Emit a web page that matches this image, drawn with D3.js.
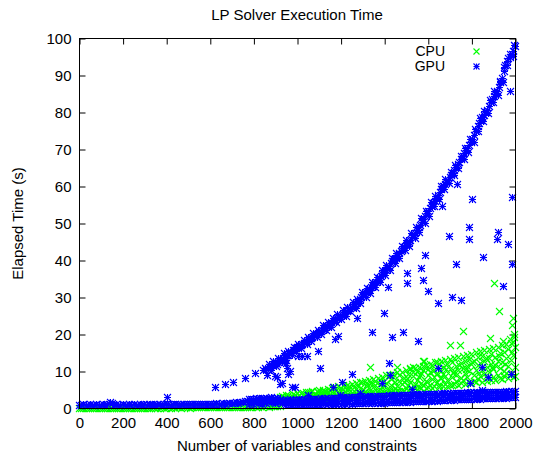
<!DOCTYPE html>
<html>
<head>
<meta charset="utf-8">
<script src="https://cdn.jsdelivr.net/npm/d3@7"></script>
<style>
  html, body { margin: 0; padding: 0; background: #fff; }
  svg { display: block; }
  text { font-family: "Liberation Sans", Arial, Helvetica, sans-serif; fill: #000; }
</style>
</head>
<body>
<svg id="chart" width="534" height="453"></svg>
<script>
// ---------------- DATA ----------------
const xTicks = [0, 200, 400, 600, 800, 1000, 1200, 1400, 1600, 1800, 2000];
const yTicks = [0, 10, 20, 30, 40, 50, 60, 70, 80, 90, 100];
const seriesNames = ["CPU", "GPU"];

// CPU: near-zero timings for small problems
const cpuLow = [[0,0.0],[10,0.0],[20,0.1],[30,0.0],[40,0.0],[50,0.1],[60,0.0],[70,0.0],[80,0.1],[90,0.0],[100,0.0],[110,0.1],[120,0.0],[130,0.1],[140,0.0],[150,0.1],[160,0.0],[170,0.1],[180,0.1],[190,0.0],[200,0.1],[210,0.1],[220,0.0],[230,0.1],[240,0.1],[250,0.1],[260,0.0],[270,0.1],[280,0.1],[290,0.1],[300,0.1],[310,0.1],[320,0.1],[330,0.1],[340,0.2],[350,0.1],[360,0.1],[370,0.1],[380,0.2],[390,0.1],[400,0.1],[410,0.2],[420,0.1],[430,0.2],[440,0.1],[450,0.2],[460,0.2],[470,0.1],[480,0.2],[490,0.2],[500,0.2],[510,0.1],[520,0.2],[530,0.2],[540,0.2],[550,0.2],[560,0.3],[570,0.2],[580,0.2],[590,0.3],[600,0.2],[610,0.3],[620,0.2],[630,0.3],[640,0.3],[650,0.2],[660,0.3],[670,0.3],[680,0.3],[690,0.4],[700,0.3],[710,0.3],[720,0.4],[730,0.3],[740,0.4],[750,0.4],[760,0.3],[770,0.4],[780,0.4],[790,0.4],[800,0.5],[810,0.4],[820,0.4],[830,0.5],[840,0.4],[850,0.5],[860,0.5],[870,0.4],[880,0.5],[890,0.5],[900,0.5],[910,0.6],[920,0.5]];

// CPU: growing, noisy band for larger problems
const cpuBand = [
 [920,2.0],[920,2.9],[930,2.6],[930,1.9],[930,3.3],[940,3.0],[940,2.2],[940,2.5],[950,1.9],[950,3.4],[950,2.7],
 [960,2.4],[960,3.6],[960,2.1],[970,3.1],[970,2.0],[970,2.6],[980,2.3],[980,3.8],[980,2.9],[990,3.5],[990,2.2],[990,2.7],
 [1000,2.1],[1000,3.1],[1000,4.0],[1010,3.6],[1010,2.5],[1010,2.0],[1020,2.8],[1020,4.1],[1020,2.3],[1030,2.2],[1030,3.3],[1030,3.9],
 [1040,3.7],[1040,2.6],[1040,4.4],[1050,2.4],[1050,3.0],[1050,4.2],[1060,4.3],[1060,2.3],[1060,3.4],[1070,2.9],[1070,4.6],[1070,2.5],
 [1080,3.8],[1080,2.4],[1080,3.1],[1090,2.6],[1090,4.5],[1090,3.5],[1100,4.8],[1100,3.0],[1100,2.5],[1110,2.7],[1110,3.9],[1110,4.4],
 [1120,3.4],[1120,2.6],[1120,5.0],[1130,4.6],[1130,2.9],[1130,3.7],[1140,2.8],[1140,5.2],[1140,4.0],[1150,3.9],[1150,2.7],[1150,4.8],
 [1160,5.4],[1160,3.3],[1160,2.9],[1170,3.0],[1170,4.4],[1170,5.7],[1180,4.9],[1180,3.6],[1180,2.8],[1190,3.2],[1190,5.9],[1190,4.1],
 [1200,5.5],[1200,2.9],[1200,4.6],[1210,3.7],[1210,6.1],[1210,3.1],[1220,4.5],[1220,3.0],[1220,5.6],[1230,6.3],[1230,3.8],[1230,4.9],
 [1240,3.3],[1240,5.2],[1240,6.0],[1250,4.1],[1250,6.6],[1250,3.2],[1260,5.7],[1260,3.5],[1260,4.7],[1270,3.4],[1270,6.8],[1270,5.1],
 [1280,6.2],[1280,4.3],[1280,3.6],[1290,3.9],[1290,5.5],[1290,7.1],[1300,6.9],[1300,3.5],[1300,4.8],[1310,4.5],[1310,7.3],[1310,3.8],
 [1320,5.9],[1320,3.7],[1320,6.6],[1330,3.9],[1330,7.6],[1330,5.3],[1340,6.8],[1340,4.4],[1340,3.8],[1350,4.2],[1350,5.6],[1350,7.9],
 [1360,7.4],[1360,3.9],[1360,6.2],[1370,5.0],[1370,8.2],[1370,4.1],[1380,3.9],[1380,6.5],[1380,7.7],[1390,8.5],[1390,4.6],[1390,5.6],
 [1400,4.2],[1400,7.2],[1400,6.0],[1410,6.7],[1410,4.0],[1410,8.8],[1420,5.2],[1420,9.0],[1420,4.5],[1430,7.8],[1430,4.3],[1430,6.3],
 [1440,4.6],[1440,8.5],[1440,9.3],[1450,6.9],[1450,4.4],[1450,5.5],[1460,9.6],[1460,5.9],[1460,4.7],[1470,4.5],[1470,7.4],[1470,8.9],
 [1480,6.4],[1480,9.8],[1480,4.9],[1490,8.2],[1490,4.7],[1490,6.9],[1500,5.3],[1500,10.2],[1500,7.6],[1510,9.1],[1510,4.8],[1510,6.2],
 [1520,7.0],[1520,10.5],[1520,5.1],[1530,4.9],[1530,8.6],[1530,9.7],[1540,10.8],[1540,6.5],[1540,5.3],[1550,7.7],[1550,5.0],[1550,9.9],
 [1560,5.6],[1560,11.1],[1560,8.3],[1570,9.4],[1570,5.3],[1570,6.8],[1580,6.1],[1580,10.4],[1580,11.4],[1590,11.7],[1590,7.4],[1590,5.4],
 [1600,5.6],[1600,8.9],[1600,10.6],[1610,9.8],[1610,6.3],[1610,12.0],[1620,7.8],[1620,11.5],[1620,5.5],[1630,5.9],[1630,10.3],[1630,8.5],
 [1640,12.3],[1640,7.0],[1640,9.4],[1650,6.2],[1650,11.8],[1650,5.8],[1660,10.0],[1660,8.1],[1660,12.6],[1670,5.9],[1670,9.3],[1670,11.0],
 [1680,12.9],[1680,6.6],[1680,8.7],[1690,7.5],[1690,11.9],[1690,6.0],[1700,10.6],[1700,6.3],[1700,13.2],[1710,8.3],[1710,12.4],[1710,6.1],
 [1720,6.4],[1720,9.9],[1720,13.5],[1730,11.3],[1730,7.2],[1730,8.8],[1740,13.8],[1740,6.3],[1740,10.4],[1750,8.0],[1750,12.1],[1750,6.7],
 [1760,10.9],[1760,14.1],[1760,7.6],[1770,6.5],[1770,9.5],[1770,12.8],[1780,14.4],[1780,8.4],[1780,11.3],[1790,7.1],[1790,13.2],[1790,9.9],
 [1800,11.9],[1800,6.7],[1800,14.7],[1810,9.0],[1810,12.6],[1810,7.4],[1820,15.0],[1820,10.4],[1820,6.9],[1830,7.8],[1830,13.7],[1830,11.5],
 [1840,12.2],[1840,8.6],[1840,15.3],[1850,7.0],[1850,14.1],[1850,10.2],[1860,15.6],[1860,9.3],[1860,12.8],[1870,8.1],[1870,11.1],[1870,7.3],
 [1880,13.5],[1880,15.9],[1880,9.7],[1890,7.6],[1890,12.0],[1890,14.6],[1900,16.2],[1900,10.5],[1900,8.4],[1910,7.5],[1910,13.9],[1910,11.7],
 [1920,12.7],[1920,16.6],[1920,9.0],[1930,8.2],[1930,14.8],[1930,10.9],[1940,16.9],[1940,7.8],[1940,12.4],[1950,10.1],[1950,15.2],[1950,8.7],
 [1960,13.6],[1960,17.3],[1960,9.5],[1970,8.0],[1970,11.4],[1970,15.9],[1980,17.6],[1980,12.9],[1980,9.2],[1990,8.4],[1990,14.3],[1990,17.9],
 [2000,11.1],[2000,16.4],[2000,8.6],
 [1505,8.0],[1535,6.0],[1565,9.0],[1595,7.0],[1625,10.0],[1655,8.0],[1685,10.5],[1715,9.5],[1745,11.5],[1775,10.5],[1805,12.5],
 [1835,9.5],[1865,13.5],[1895,11.0],[1925,14.0],[1955,12.0],[1985,15.0],[1995,19.2],[1975,18.6],[1945,18.2]
];

// CPU: isolated slow runs
const cpuOutliers = [[982,3.0],[1097,4.3],[1119,4.3],[1335,11.1],[1459,11.0],[1518,10.8],[1532,11.0],[1578,12.7],[1583,12.7],[1633,12.4],[1702,17.0],[1748,17.0],[1761,20.8],[1885,18.9],[1904,33.8],[1927,26.2],[1988,22.4],[1991,24.3],[1996,20.0]];

// GPU: lower band (fast runs)
const gpuLow = [
 [0,0.9],[10,0.8],[20,1.0],[30,0.8],[40,0.9],[50,1.0],[60,0.8],[70,0.9],[80,1.0],[90,0.8],[100,0.9],[110,1.0],[120,0.9],[130,1.1],[140,1.7],[150,1.3],
 [160,0.9],[170,1.0],[180,0.8],[190,0.9],[200,1.0],[210,0.9],[220,0.8],[230,1.0],[240,0.9],[250,1.0],[260,0.8],[270,0.9],[280,1.0],[290,0.9],
 [300,1.0],[310,0.9],[320,1.1],[330,0.9],[340,1.0],[350,0.9],[360,1.0],[370,1.1],[380,0.9],[390,1.0],[400,1.0],[410,1.1],[420,0.9],[430,1.0],
 [440,1.1],[450,1.0],[460,0.9],[470,1.1],[480,1.0],[490,1.1],[500,1.0],[510,1.1],[520,1.0],[530,1.1],[540,1.2],[550,1.0],[560,1.1],[570,1.2],
 [580,1.1],[590,1.0],[600,1.2],[610,1.1],[620,1.2],[630,1.3],[640,1.1],[650,1.2],[660,1.3],[670,1.2],[680,1.4],[690,1.3],[700,1.4],[710,1.3],
 [720,1.5],[730,1.4],[740,1.6],[750,1.7],[760,1.9],[770,2.0],[780,2.3],[790,2.5],[800,2.4],[810,2.6],[820,2.4],[830,2.7],[840,2.5],[850,2.8],
 [860,2.6],[870,2.7],[880,2.9],[890,2.5],[900,2.7],[910,2.6],[920,2.4],[930,2.2],[940,1.8],
 [780,1.2],[790,1.4],[800,1.1],[810,1.5],[820,1.3],[830,1.6],[840,1.2],[850,1.7],[860,1.4],[870,1.9],[880,1.5],[890,1.8],[900,1.4],[910,1.9],[920,1.5],[930,1.3],
 [785,1.9],[805,2.0],[825,2.1],[845,2.2],[865,2.1],[885,2.2],[905,2.2],[925,2.0],
 [950,1.0],[950,2.2],[960,1.1],[960,2.0],[970,1.0],[970,2.3],[980,1.2],[980,2.1],[990,1.1],[990,2.2],[1000,1.0],[1000,2.1],
 [1010,1.2],[1010,2.3],[1020,1.1],[1020,2.2],[1030,1.0],[1030,2.4],[1040,1.2],[1040,2.2],[1050,1.1],[1050,2.4],[1060,1.2],[1060,2.3],
 [1070,1.0],[1070,2.5],[1080,1.2],[1080,2.3],[1090,1.1],[1090,2.5],[1100,1.2],[1100,2.4],[1110,1.1],[1110,2.6],[1120,1.3],[1120,2.5],
 [1130,1.1],[1130,2.6],[1140,1.2],[1140,2.7],[1150,1.3],[1150,2.5],[1160,1.1],[1160,2.7],[1170,1.3],[1170,2.8],[1180,1.2],[1180,2.6],
 [1190,1.3],[1190,2.8],[1200,1.2],[1200,2.9],[1210,1.4],[1210,2.7],[1220,1.2],[1220,2.9],[1230,1.3],[1230,2.8],[1240,1.4],[1240,3.0],
 [1250,1.2],[1250,2.9],[1260,1.4],[1260,3.0],[1270,1.3],[1270,2.9],[1280,1.4],[1280,3.1],[1290,1.3],[1290,3.0],[1300,1.4],[1300,3.1],
 [1310,1.3],[1310,3.0],[1320,1.5],[1320,3.2],[1330,1.3],[1330,3.1],[1340,1.4],[1340,3.2],[1350,1.5],[1350,3.1],[1360,1.3],[1360,3.3],
 [1370,1.5],[1370,3.2],[1380,1.4],[1380,3.3],[1390,1.5],[1390,3.2],[1400,1.4],[1400,3.3],[1410,1.6],[1410,3.2],[1420,1.5],[1420,3.4],
 [1430,1.6],[1430,3.3],[1440,1.5],[1440,3.4],[1450,1.7],[1450,3.3],[1460,1.6],[1460,3.5],[1470,1.7],[1470,3.4],[1480,1.6],[1480,3.5],
 [1490,1.8],[1490,3.4],[1500,1.7],[1500,3.6],[1510,1.8],[1510,3.5],[1520,1.7],[1520,3.6],[1530,1.9],[1530,3.5],[1540,1.8],[1540,3.7],
 [1550,1.9],[1550,3.6],[1560,1.8],[1560,3.7],[1570,2.0],[1570,3.6],[1580,1.9],[1580,3.8],[1590,2.0],[1590,3.7],[1600,1.9],[1600,3.8],
 [1610,2.1],[1610,3.7],[1620,2.0],[1620,3.9],[1630,2.1],[1630,3.8],[1640,2.0],[1640,3.9],[1650,2.2],[1650,3.8],[1660,2.1],[1660,4.0],
 [1670,2.2],[1670,3.9],[1680,2.1],[1680,4.0],[1690,2.3],[1690,3.9],[1700,2.2],[1700,4.0],[1710,2.3],[1710,3.9],[1720,2.2],[1720,4.1],
 [1730,2.4],[1730,4.0],[1740,2.3],[1740,4.1],[1750,2.4],[1750,4.0],[1760,2.3],[1760,4.1],[1770,2.5],[1770,4.0],[1780,2.4],[1780,4.2],
 [1790,2.5],[1790,4.1],[1800,2.4],[1800,4.2],[1810,2.6],[1810,4.1],[1820,2.5],[1820,4.2],[1830,2.6],[1830,4.1],[1840,2.5],[1840,4.3],
 [1850,2.7],[1850,4.2],[1860,2.6],[1860,4.3],[1870,2.7],[1870,4.2],[1880,2.6],[1880,4.3],[1890,2.8],[1890,4.2],[1900,2.7],[1900,4.4],
 [1910,2.8],[1910,4.3],[1920,2.7],[1920,4.4],[1930,2.9],[1930,4.3],[1940,2.8],[1940,4.4],[1950,2.9],[1950,4.3],[1960,2.8],[1960,4.5],
 [1970,3.0],[1970,4.4],[1980,2.9],[1980,4.5],[1990,3.0],[1990,4.4],[2000,2.9],[2000,4.5],
 [975,1.6],[1035,1.7],[1095,1.8],[1155,1.9],[1215,2.1],[1275,2.2],[1335,2.3],[1395,2.4],[1455,2.6],[1515,2.7],[1575,2.8],[1635,3.0],
 [1695,3.1],[1755,3.2],[1815,3.4],[1875,3.5],[1935,3.6],[1995,3.8]
];

// GPU: upper curve (slow runs growing steeply)
const gpuCurve = [
 [624,5.7],[670,6.5],[706,7.1],[761,8.2],[807,9.5],[845,10.3],[853,10.8],[860,10.6],[870,11.2],[878,11.0],[885,11.6],[893,11.9],[900,12.2],
 [908,12.0],[913,12.5],[920,12.9],[928,13.1],[936,13.5],[945,13.9],[952,14.2],[958,14.4],[965,14.9],[972,15.1],[980,15.6],[988,15.8],
 [995,16.2],[1002,16.4],[1010,16.8],[1018,17.0],[1025,17.3],[1032,17.5],[1040,17.9],[1048,18.1],[1055,18.6],[1062,18.8],[1070,19.2],
 [1078,19.5],[1085,19.9],[1092,20.1],[1100,20.5],[1108,20.9],[1115,21.2],[1122,21.4],[1130,21.9],[1138,22.2],[1145,22.5],[1152,22.8],
 [1160,23.0],[1168,23.4],[1175,23.8],[1182,24.2],[1190,24.6],[1198,24.9],[1205,25.2],[1212,25.5],[1220,25.8],[1228,26.1],[1235,26.6],
 [1242,27.0],[1250,27.3],[1258,27.6],[1265,28.0],[1272,28.3],[1280,28.9],[1288,29.5],[1295,30.0],[1302,30.4],[1310,30.8],[1318,31.3],
 [1325,31.7],[1332,32.2],[1340,32.7],[1348,33.1],[1355,33.6],[1362,34.1],[1370,34.6],[1378,35.2],[1385,35.7],[1392,36.3],[1400,36.8],
 [1408,37.4],[1415,37.9],[1422,38.4],[1430,39.1],[1438,39.7],[1445,40.2],[1452,40.6],[1460,41.2],[1468,41.8],[1475,42.3],[1482,42.8],
 [1490,43.4],[1498,44.0],[1505,44.4],[1512,44.9],[1520,45.4],[1528,46.1],[1535,46.7],[1542,47.3],[1550,48.0],[1558,48.8],[1565,49.5],
 [1572,50.3],[1580,51.1],[1588,51.8],[1595,52.6],[1602,53.3],[1610,54.0],[1618,54.7],[1625,55.4],[1632,56.0],[1640,56.8],[1648,57.6],
 [1655,58.3],[1662,59.1],[1670,60.0],[1678,60.6],[1685,61.2],[1692,61.7],[1700,62.3],[1708,62.9],[1715,63.6],[1722,64.3],[1730,65.1],
 [1738,65.9],[1745,66.6],[1752,67.3],[1760,68.1],[1768,68.9],[1775,69.6],[1782,70.3],[1790,71.0],[1798,71.9],[1805,72.8],[1812,73.7],
 [1820,75.0],[1828,76.1],[1835,77.0],[1842,77.8],[1850,78.6],[1858,79.3],[1865,80.0],[1872,80.6],[1880,81.6],[1888,82.6],[1895,83.6],
 [1902,84.3],[1910,85.0],[1918,85.6],[1925,86.8],[1932,88.0],[1940,89.3],[1948,91.0],[1955,92.6],[1962,93.8],[1970,94.6],[1978,95.0],
 [1985,95.6],[1992,96.6],[1998,97.8]
];
const gpuCurveUpper = [
 [870,12.0],[890,12.6],[915,13.6],[940,14.8],[960,15.4],[985,16.6],[1005,17.4],[1030,18.4],[1050,19.2],[1075,20.4],[1095,21.2],[1120,22.4],
 [1140,23.3],[1165,24.3],[1185,25.4],[1210,26.5],[1230,27.2],[1255,28.6],[1275,29.5],[1300,31.4],[1320,32.5],[1345,34.0],[1365,35.4],
 [1390,37.3],[1410,38.7],[1435,40.6],[1455,42.0],[1480,43.9],[1500,45.3],[1525,47.2],[1545,48.9],[1570,51.4],[1590,53.2],[1615,55.6],
 [1635,57.4],[1660,60.1],[1680,61.9],[1705,63.9],[1725,65.8],[1750,68.1],[1770,70.2],[1795,72.6],[1815,75.4],[1840,78.5],[1860,80.4],
 [1885,83.2],[1905,85.6],[1930,88.5],[1950,92.2],[1975,95.8],[1995,98.2]
];
const gpuCurveLower = [
 [880,10.3],[905,11.3],[930,12.4],[950,13.1],[975,14.3],[995,15.3],[1020,16.3],[1045,17.2],[1065,18.2],[1090,19.3],[1110,20.0],[1135,21.1],
 [1155,22.0],[1180,23.2],[1200,24.1],[1225,25.0],[1245,26.1],[1270,27.1],[1290,28.5],[1315,30.0],[1335,31.1],[1360,32.8],[1380,34.1],
 [1405,36.0],[1425,37.4],[1450,39.2],[1470,40.6],[1495,42.6],[1515,43.8],[1540,45.9],[1560,47.6],[1585,50.0],[1605,52.0],[1630,54.6],
 [1650,56.6],[1675,59.1],[1695,60.8],[1720,62.9],[1740,64.8],[1765,67.2],[1785,69.2],[1810,72.0],[1830,75.0],[1855,77.6],[1875,79.6],
 [1900,82.6],[1920,84.6],[1945,88.0],[1965,92.8],[1990,95.2]
];

// GPU: isolated runs between the two regimes
const gpuOutliers = [
 [403,3.0],[862,8.9],[899,8.6],[908,8.4],[922,6.5],[931,6.8],[949,12.2],[954,10.8],[959,9.2],[968,10.0],[977,5.7],[991,5.7],
 [1005,14.0],[1023,14.0],[1046,14.0],[1050,3.5],[1096,15.3],[1105,10.8],[1165,5.7],[1174,18.6],[1190,19.4],[1197,3.5],[1206,6.9],
 [1252,9.2],[1275,24.4],[1289,4.1],[1344,20.6],[1390,6.8],[1399,25.7],[1418,32.7],[1424,12.2],[1427,8.9],[1434,19.2],[1486,20.6],
 [1505,33.8],[1505,36.5],[1528,5.1],[1555,18.1],[1569,37.8],[1578,34.6],[1587,41.3],[1601,31.6],[1647,28.4],[1649,10.8],[1665,54.6],
 [1697,46.5],[1711,30.0],[1729,38.9],[1734,60.5],[1752,29.2],[1789,49.0],[1789,45.7],[1794,6.8],[1803,56.5],[1849,11.1],[1849,4.9],
 [1853,40.8],[1878,8.4],[1917,45.7],[1922,47.6],[1945,33.0],[1968,44.3],[1977,85.7],[1981,9.2],[1986,57.0],[1986,38.9]
];

const cpuData = [].concat(cpuLow, cpuBand, cpuOutliers);
const gpuData = [].concat(gpuLow, gpuCurve, gpuCurveUpper, gpuCurveLower, gpuOutliers);

// ---------------- CHART ----------------
const svg = d3.select("#chart");
const L = 79.5, R = 515.5, T = 38.5, B = 408.5;
const x = d3.scaleLinear().domain([0, 2000]).range([L, R]);
const y = d3.scaleLinear().domain([0, 100]).range([B, T]);
const tick = 6;
const fontSize = "15px";
const cpuColor = "#00ff00", gpuColor = "#0000ff";
const s = 3.5;
const snap = v => Math.round(v - 0.5) + 0.5;

function crossPath(px, py, r = s) {
  return `M${px - r},${py - r}L${px + r},${py + r}M${px - r},${py + r}L${px + r},${py - r}`;
}
function starPath(px, py, r = s) {
  return crossPath(px, py, r) + `M${px - r},${py}L${px + r},${py}M${px},${py - r}L${px},${py + r}`;
}

// Title and labels
svg.append("text").attr("x", 297).attr("y", 20).attr("text-anchor", "middle")
  .style("font-size", fontSize).text("LP Solver Execution Time");
svg.append("text").attr("x", 297).attr("y", 451).attr("text-anchor", "middle")
  .style("font-size", fontSize).text("Number of variables and constraints");
svg.append("text").attr("transform", "translate(23,223.5) rotate(-90)").attr("text-anchor", "middle")
  .style("font-size", fontSize).text("Elapsed Time (s)");

// Axes (ticks pointing inward, mirrored on top and right)
function styleAxis(g) {
  g.select(".domain").remove();
  g.selectAll(".tick line").attr("stroke", "#000");
  g.selectAll(".tick text").style("font-size", fontSize).attr("fill", "#000")
    .style("font-family", '"Liberation Sans", Arial, Helvetica, sans-serif');
}
svg.append("g").attr("transform", `translate(0,${B})`)
  .call(d3.axisBottom(x).tickValues(xTicks).tickSizeInner(-tick).tickSizeOuter(0).tickPadding(9).tickFormat(d3.format("d")))
  .call(styleAxis);
svg.append("g").attr("transform", `translate(0,${T})`)
  .call(d3.axisTop(x).tickValues(xTicks).tickSizeInner(-tick).tickSizeOuter(0).tickFormat(""))
  .call(styleAxis);
svg.append("g").attr("transform", `translate(${L},0)`)
  .call(d3.axisLeft(y).tickValues(yTicks).tickSizeInner(-tick).tickSizeOuter(0).tickPadding(8).tickFormat(d3.format("d")))
  .call(styleAxis);
svg.append("g").attr("transform", `translate(${R},0)`)
  .call(d3.axisRight(y).tickValues(yTicks).tickSizeInner(-tick).tickSizeOuter(0).tickFormat(""))
  .call(styleAxis);

// Data points: CPU first, GPU on top
svg.append("g").selectAll("path").data(cpuData).join("path")
  .attr("d", d => crossPath(snap(x(d[0])), snap(y(d[1]))))
  .attr("fill", "none").attr("stroke", cpuColor).attr("stroke-width", 1.1);
svg.append("g").selectAll("path").data(gpuData).join("path")
  .attr("d", d => starPath(snap(x(d[0])), snap(y(d[1]))))
  .attr("fill", "none").attr("stroke", gpuColor).attr("stroke-width", 1.1);

// Border
svg.append("rect").attr("x", L).attr("y", T).attr("width", R - L).attr("height", B - T)
  .attr("fill", "none").attr("stroke", "#000").attr("stroke-width", 1);

// Legend
const legend = svg.append("g");
const legendItems = [
  { name: seriesNames[0], color: cpuColor, path: crossPath, y: 51.5 },
  { name: seriesNames[1], color: gpuColor, path: starPath, y: 66.5 }
];
legendItems.forEach(it => {
  legend.append("text").attr("x", 445).attr("y", it.y).attr("dy", "0.35em").attr("text-anchor", "end")
    .style("font-size", "14px").text(it.name);
  legend.append("path").attr("d", it.path(476.5, it.y, 3)).attr("fill", "none")
    .attr("stroke", it.color).attr("stroke-width", 1.1);
});
</script>
</body>
</html>
